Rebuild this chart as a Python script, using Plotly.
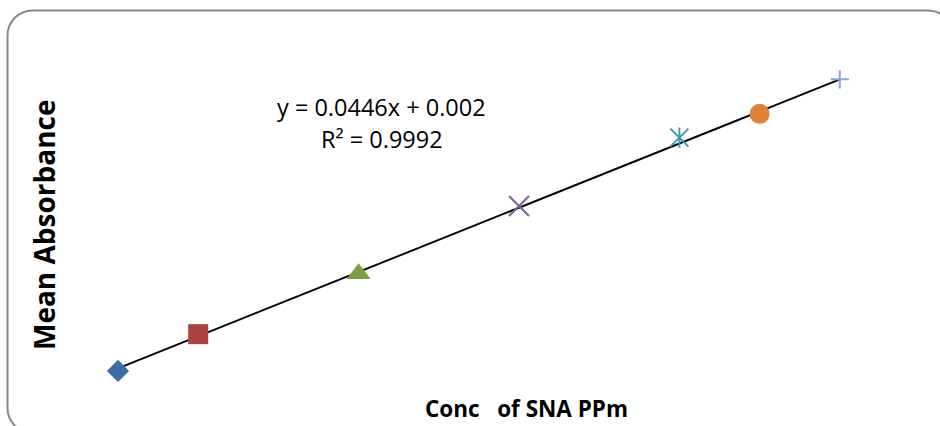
import plotly.graph_objects as go

# ---- data ----
conc = [1, 2, 4, 6, 8, 9, 10]
absorbance = [0.043, 0.094, 0.178, 0.272, 0.367, 0.400, 0.448]
slope = 0.0446
intercept = 0.002
eq_text = "y = 0.0446x + 0.002"
r2_text = "R² = 0.9992"
x_title = "Conc\u00a0\u00a0 of SNA PPm"
y_title = "Mean Absorbance"

symbols = ["diamond", "square", "triangle-up", "x-thin-open", "star6", "circle", "cross-thin-open"]
colors = ["#3D6BA5", "#AB4341", "#7E9E44", "#7B5FA0", "#3B99B0", "#DF833A", "#8AA6D4"]
sizes = [17, 20, 21, 20, 20, 20, 13]

W, H = 940, 426
L, R, T, B = 40, 40, 30, 26
PW, PH = W - L - R, H - T - B

def pxx(p):
    return (p - L) / PW

def pxy(p):
    return 1 - (p - T) / PH

fig = go.Figure()

# trendline from the equation
tx = [conc[0], conc[-1]]
ty = [slope * v + intercept for v in tx]
fig.add_trace(go.Scatter(x=tx, y=ty, mode="lines",
                         line=dict(color="black", width=1.9),
                         hoverinfo="skip", showlegend=False))

for i in range(len(conc)):
    sym = symbols[i]
    if sym == "star6":
        # Excel star: an x with a vertical bar
        fig.add_trace(go.Scatter(x=[conc[i]], y=[absorbance[i]], mode="markers",
                                 marker=dict(symbol="x-thin-open", size=sizes[i] * 0.9, color=colors[i],
                                             line=dict(color=colors[i], width=2)),
                                 showlegend=False))
        fig.add_trace(go.Scatter(x=[conc[i]], y=[absorbance[i]], mode="markers",
                                 marker=dict(symbol="line-ns-open", size=sizes[i] * 0.72, color=colors[i],
                                             line=dict(color=colors[i], width=2)),
                                 showlegend=False))
    elif sym.endswith("-open"):
        fig.add_trace(go.Scatter(x=[conc[i]], y=[absorbance[i]], mode="markers",
                                 marker=dict(symbol=sym, size=sizes[i], color=colors[i],
                                             line=dict(color=colors[i], width=2)),
                                 showlegend=False))
    else:
        fig.add_trace(go.Scatter(x=[conc[i]], y=[absorbance[i]], mode="markers",
                                 marker=dict(symbol=sym, size=sizes[i], color=colors[i],
                                             line=dict(width=0)),
                                 showlegend=False))

# rounded frame in pixel terms converted to paper coords
fx0, fy0, fx1, fy1, rr = 7.5, 10.5, 953, 433, 25
k = 0.5523 * rr
def P(x, y):
    return f"{pxx(x):.5f},{pxy(y):.5f}"
path = (
    f"M{P(fx0 + rr, fy0)} L{P(fx1 - rr, fy0)} "
    f"C{P(fx1 - rr + k, fy0)} {P(fx1, fy0 + rr - k)} {P(fx1, fy0 + rr)} "
    f"L{P(fx1, fy1 - rr)} "
    f"C{P(fx1, fy1 - rr + k)} {P(fx1 - rr + k, fy1)} {P(fx1 - rr, fy1)} "
    f"L{P(fx0 + rr, fy1)} "
    f"C{P(fx0 + rr - k, fy1)} {P(fx0, fy1 - rr + k)} {P(fx0, fy1 - rr)} "
    f"L{P(fx0, fy0 + rr)} "
    f"C{P(fx0, fy0 + rr - k)} {P(fx0 + rr - k, fy0)} {P(fx0 + rr, fy0)} Z"
)
fig.add_shape(type="path", path=path, xref="paper", yref="paper",
              line=dict(color="#878787", width=2), layer="below")

txt_font = dict(family="Open Sans", size=23.5, color="black")
fig.add_annotation(x=pxx(381), y=pxy(107), xref="paper", yref="paper",
                   text=eq_text, showarrow=False, font=txt_font,
                   xanchor="center", yanchor="middle")
fig.add_annotation(x=pxx(382), y=pxy(139), xref="paper", yref="paper",
                   text=r2_text, showarrow=False, font=txt_font,
                   xanchor="center", yanchor="middle")
fig.add_annotation(x=pxx(526), y=pxy(408), xref="paper", yref="paper",
                   text=f"<b>{x_title}</b>", showarrow=False,
                   font=dict(family="Open Sans", size=22.5, color="black"),
                   xanchor="center", yanchor="middle")
fig.add_annotation(x=pxx(44), y=pxy(225), xref="paper", yref="paper",
                   text=f"<b>{y_title}</b>", showarrow=False, textangle=-90,
                   font=dict(family="Open Sans", size=28, color="black"),
                   xanchor="center", yanchor="middle")

# axis ranges chosen so the marks land where the reference has them
x_px_per_unit = 80.2
y_px_per_unit = 720.0
x_lo = 1 + (L - 118) / x_px_per_unit
x_hi = 1 + (W - R - 118) / x_px_per_unit
y_lo = 0.0466 - ((H - B) - 368.3) / y_px_per_unit
y_hi = 0.0466 + (368.3 - T) / y_px_per_unit

fig.update_layout(
    width=W, height=H,
    margin=dict(l=L, r=R, t=T, b=B),
    paper_bgcolor="white", plot_bgcolor="white",
    xaxis=dict(range=[x_lo, x_hi], showgrid=False, zeroline=False,
               showticklabels=False, showline=False, ticks=""),
    yaxis=dict(range=[y_lo, y_hi], showgrid=False, zeroline=False,
               showticklabels=False, showline=False, ticks=""),
    showlegend=False,
)

fig.write_html("out.html", config={"displayModeBar": False},
               post_script="document.body.style.margin='0';document.body.style.overflow='hidden';")
